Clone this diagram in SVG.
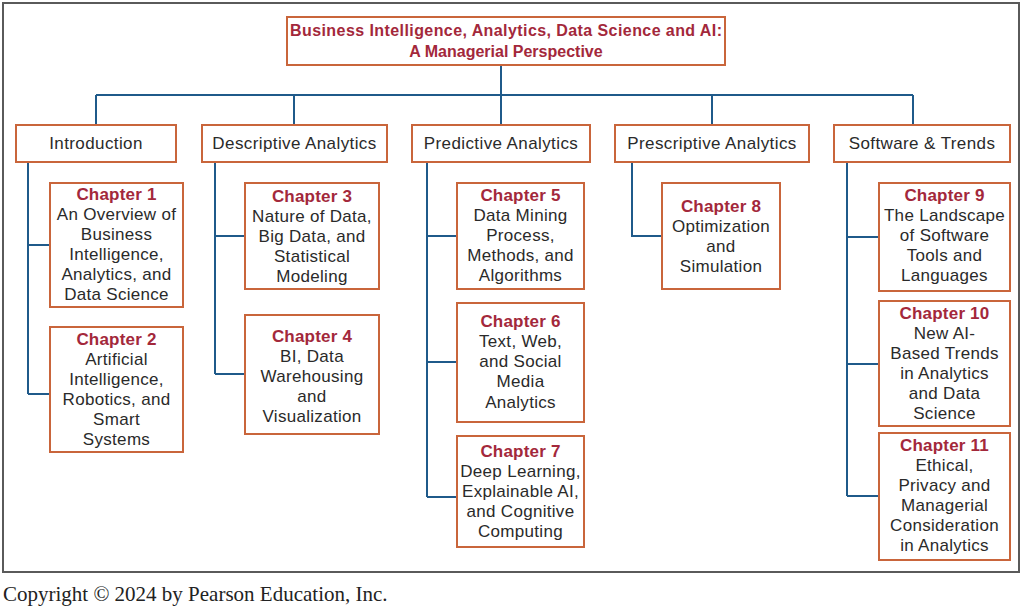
<svg xmlns="http://www.w3.org/2000/svg" width="1024" height="609" viewBox="0 0 1024 609">
<style>
.frame{fill:#fff;stroke:#5a5a5a;stroke-width:2}
.box{fill:#fff;stroke:#c9653b;stroke-width:2}
.conn{fill:none;stroke:#1f5a8a;stroke-width:2}
.title{font-family:"Liberation Sans",Arial,sans-serif;font-weight:bold;font-size:16px;fill:#a3283b;text-anchor:middle}
.sec{font-family:"Liberation Sans",Arial,sans-serif;font-size:17px;fill:#2a2a2a;text-anchor:middle;letter-spacing:0.4px}
.ch{font-family:"Liberation Sans",Arial,sans-serif;font-weight:bold;font-size:17px;fill:#a3283b;text-anchor:middle;letter-spacing:0.2px}
.body{font-family:"Liberation Sans",Arial,sans-serif;font-size:17px;fill:#2a2a2a;text-anchor:middle;letter-spacing:0.3px}
.copy{font-family:"Liberation Serif","Times New Roman",serif;font-size:21px;fill:#222}
</style>
<rect x="0" y="0" width="1024" height="609" fill="#fff"/>
<rect class="frame" x="3" y="3" width="1016" height="569"/>
<text class="copy" x="3" y="601">Copyright © 2024 by Pearson Education, Inc.</text>

<g id="connectors">
<path class="conn" d="M501 65V95M96 95H913M96 95V125M294 95V125M501 95V125M712 95V125M913 95V125"/>
<path class="conn" d="M28 162V394M28 245H50M28 394H50"/>
<path class="conn" d="M215 162V374M215 236H245M215 374H245"/>
<path class="conn" d="M427 162V497M427 236H457M427 362H457M427 497H457"/>
<path class="conn" d="M632 162V236H662"/>
<path class="conn" d="M847 162V496M847 237H879M847 364H879M847 496H879"/>
</g>

<g id="root">
<rect class="box" x="287" y="17" width="438" height="48"/>
<text class="title" x="506" y="36" textLength="432" lengthAdjust="spacing">Business Intelligence, Analytics, Data Science and AI:</text>
<text class="title" x="506" y="57">A Managerial Perspective</text>
</g>

<g id="introduction">
<rect class="box" x="16" y="125" width="160" height="37"/>
<text class="sec" x="96" y="149">Introduction</text>
</g>
<g id="descriptive">
<rect class="box" x="202" y="125" width="185" height="37"/>
<text class="sec" x="294.5" y="149">Descriptive Analytics</text>
</g>
<g id="predictive">
<rect class="box" x="412" y="125" width="178" height="37"/>
<text class="sec" x="501" y="149">Predictive Analytics</text>
</g>
<g id="prescriptive">
<rect class="box" x="615" y="125" width="194" height="37"/>
<text class="sec" x="712" y="149">Prescriptive Analytics</text>
</g>
<g id="software">
<rect class="box" x="834" y="125" width="176" height="37"/>
<text class="sec" x="922" y="149">Software &amp; Trends</text>
</g>

<g id="chapter1">
<rect class="box" x="50" y="183" width="133" height="124"/>
<text class="ch" x="116.5" y="200">Chapter 1</text>
<text class="body" x="116.5" y="220">An Overview of</text>
<text class="body" x="116.5" y="240">Business</text>
<text class="body" x="116.5" y="260">Intelligence,</text>
<text class="body" x="116.5" y="280">Analytics, and</text>
<text class="body" x="116.5" y="300">Data Science</text>
</g>
<g id="chapter2">
<rect class="box" x="50" y="327" width="133" height="125"/>
<text class="ch" x="116.5" y="345">Chapter 2</text>
<text class="body" x="116.5" y="365">Artificial</text>
<text class="body" x="116.5" y="385">Intelligence,</text>
<text class="body" x="116.5" y="405">Robotics, and</text>
<text class="body" x="116.5" y="425">Smart</text>
<text class="body" x="116.5" y="445">Systems</text>
</g>
<g id="chapter3">
<rect class="box" x="245" y="183" width="134" height="106"/>
<text class="ch" x="312" y="202">Chapter 3</text>
<text class="body" x="312" y="222">Nature of Data,</text>
<text class="body" x="312" y="242">Big Data, and</text>
<text class="body" x="312" y="262">Statistical</text>
<text class="body" x="312" y="282">Modeling</text>
</g>
<g id="chapter4">
<rect class="box" x="245" y="315" width="134" height="119"/>
<text class="ch" x="312" y="342">Chapter 4</text>
<text class="body" x="312" y="362">BI, Data</text>
<text class="body" x="312" y="382">Warehousing</text>
<text class="body" x="312" y="402">and</text>
<text class="body" x="312" y="422">Visualization</text>
</g>
<g id="chapter5">
<rect class="box" x="457" y="183" width="127" height="106"/>
<text class="ch" x="520.5" y="201">Chapter 5</text>
<text class="body" x="520.5" y="221">Data Mining</text>
<text class="body" x="520.5" y="241">Process,</text>
<text class="body" x="520.5" y="261">Methods, and</text>
<text class="body" x="520.5" y="281">Algorithms</text>
</g>
<g id="chapter6">
<rect class="box" x="457" y="303" width="127" height="119"/>
<text class="ch" x="520.5" y="327">Chapter 6</text>
<text class="body" x="520.5" y="347">Text, Web,</text>
<text class="body" x="520.5" y="367">and Social</text>
<text class="body" x="520.5" y="387">Media</text>
<text class="body" x="520.5" y="408">Analytics</text>
</g>
<g id="chapter7">
<rect class="box" x="457" y="436" width="127" height="111"/>
<text class="ch" x="520.5" y="457">Chapter 7</text>
<text class="body" x="520.5" y="477">Deep Learning,</text>
<text class="body" x="520.5" y="497">Explainable AI,</text>
<text class="body" x="520.5" y="517">and Cognitive</text>
<text class="body" x="520.5" y="537">Computing</text>
</g>
<g id="chapter8">
<rect class="box" x="662" y="183" width="118" height="106"/>
<text class="ch" x="721" y="212">Chapter 8</text>
<text class="body" x="721" y="232">Optimization</text>
<text class="body" x="721" y="252">and</text>
<text class="body" x="721" y="272">Simulation</text>
</g>
<g id="chapter9">
<rect class="box" x="879" y="183" width="131" height="108"/>
<text class="ch" x="944.5" y="201">Chapter 9</text>
<text class="body" x="944.5" y="221">The Landscape</text>
<text class="body" x="944.5" y="241">of Software</text>
<text class="body" x="944.5" y="261">Tools and</text>
<text class="body" x="944.5" y="281">Languages</text>
</g>
<g id="chapter10">
<rect class="box" x="879" y="301" width="131" height="125"/>
<text class="ch" x="944.5" y="319">Chapter 10</text>
<text class="body" x="944.5" y="339">New AI-</text>
<text class="body" x="944.5" y="359">Based Trends</text>
<text class="body" x="944.5" y="379">in Analytics</text>
<text class="body" x="944.5" y="399">and Data</text>
<text class="body" x="944.5" y="419">Science</text>
</g>
<g id="chapter11">
<rect class="box" x="879" y="433" width="131" height="127"/>
<text class="ch" x="944.5" y="451">Chapter 11</text>
<text class="body" x="944.5" y="471">Ethical,</text>
<text class="body" x="944.5" y="491">Privacy and</text>
<text class="body" x="944.5" y="511">Managerial</text>
<text class="body" x="944.5" y="531">Consideration</text>
<text class="body" x="944.5" y="551">in Analytics</text>
</g>
</svg>
